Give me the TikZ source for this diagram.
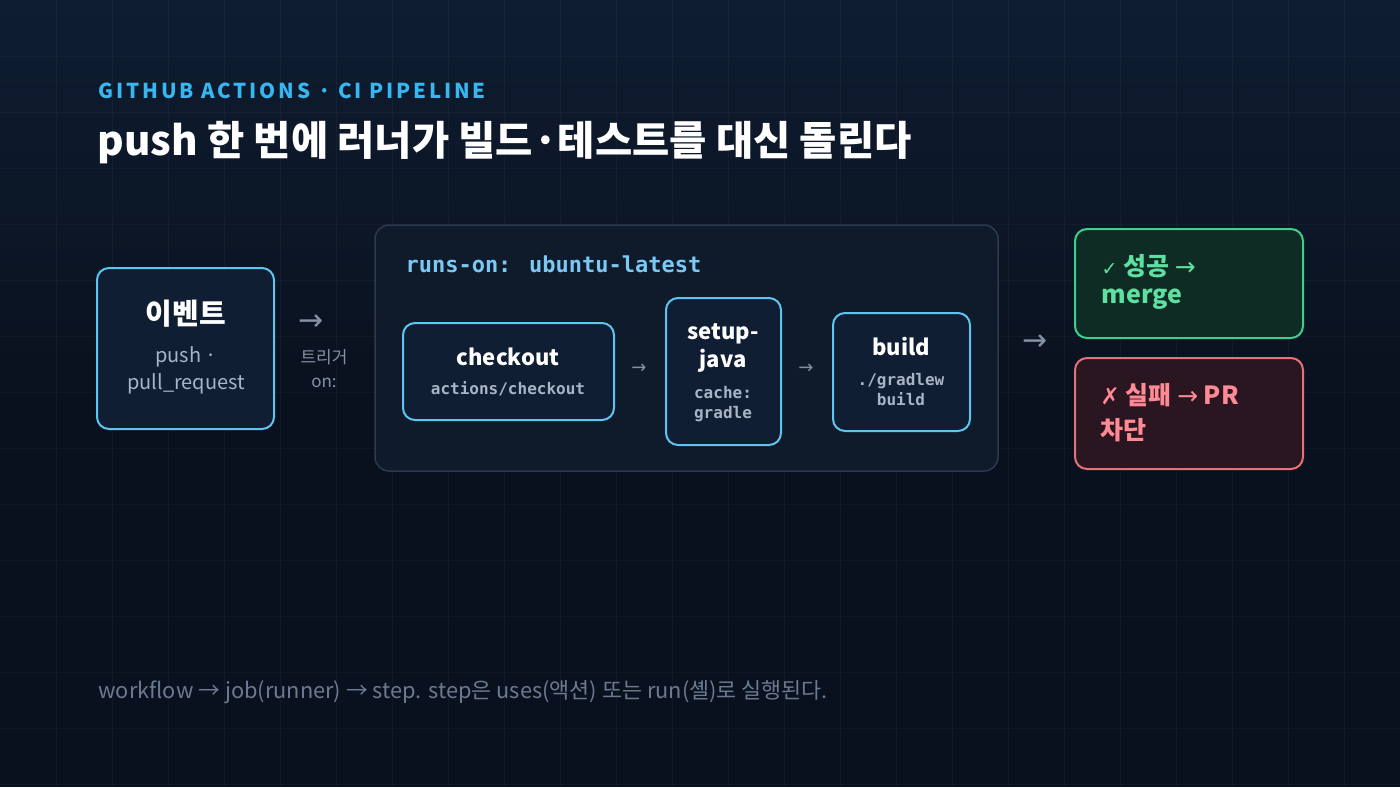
\documentclass[tikz,border=0pt]{standalone}
\usepackage{fontspec}
\setmainfont{Noto Sans CJK KR}
\newfontfamily\hdrf[LetterSpace=14]{Noto Sans CJK KR}
\newfontfamily\monof{DejaVu Sans Mono}
\newfontfamily\symf{DejaVu Sans}
\definecolor{bg}{HTML}{0A111E}
\definecolor{bgtop}{HTML}{0E1D31}
\definecolor{cyanb}{HTML}{5EC4F0}
\definecolor{hdrc}{HTML}{38B6F0}
\definecolor{boxf}{HTML}{0F1E33}
\definecolor{greyt}{HTML}{A9B4C4}
\definecolor{dimt}{HTML}{8391A5}
\definecolor{contl}{HTML}{2A3A50}
\definecolor{contf}{HTML}{0F1A2B}
\definecolor{runc}{HTML}{7CC8F5}
\definecolor{footc}{HTML}{6B7A90}
\definecolor{gfill}{HTML}{0E2C24}
\definecolor{gline}{HTML}{3CCF8E}
\definecolor{gtext}{HTML}{5EE0A0}
\definecolor{rfill}{HTML}{2A1621}
\definecolor{rline}{HTML}{E8707A}
\definecolor{rtext}{HTML}{FF8A95}
\begin{document}
\begin{tikzpicture}[x=1pt,y=-1pt,
  box/.style={draw=cyanb,line width=2pt,fill=boxf,rounded corners=12pt},
  ttl/.style={font=\fontsize{22}{28}\selectfont\bfseries,text=white,anchor=center},
  sub/.style={font=\monof\fontsize{16}{20}\selectfont\bfseries,text=greyt,anchor=center},
  arr/.style={text=dimt,anchor=center}]
\useasboundingbox (0,0) rectangle (1400,787);
\fill[bg] (0,0) rectangle (1400,787);
\fill[top color=bgtop,bottom color=bg] (0,0) rectangle (1400,400);
\foreach \x in {56,112,...,1400} \draw[white,opacity=0.03] (\x,0) -- (\x,787);
\foreach \y in {56,112,...,787} \draw[white,opacity=0.03] (0,\y) -- (1400,\y);
\node[anchor=west,text=hdrc,font=\hdrf\fontsize{20.5}{24}\selectfont\bfseries] (hdr) at (95,91) {GITHUB ACTIONS · CI PIPELINE};
\node[anchor=west,text=white,font=\fontsize{40.5}{46}\selectfont\bfseries] (title) at (94,143) {push 한 번에 러너가 빌드·테스트를 대신 돌린다};
% event
\draw[box] (97,268) rectangle (274,429);
\node[ttl,font=\fontsize{29}{32}\selectfont\bfseries] (ev) at (186,314) {이벤트};
\node[anchor=center,text=greyt,font=\fontsize{20}{27}\selectfont,align=center] (evs) at (186,370) {push ·\\pull\_request};
\node[arr,font=\symf\fontsize{30}{30}\selectfont] (a1) at (311,323) {→};
\node[arr,font=\fontsize{17}{24}\selectfont,align=center] (trig) at (324,369) {트리거\\on:};
% container
\draw[draw=contl,line width=1.5pt,fill=contf,rounded corners=14pt] (375,225) rectangle (998,471);
\node[anchor=west,text=runc,font=\monof\fontsize{22}{26}\selectfont\bfseries] (runs) at (402,264) {runs-on: ubuntu-latest};
\draw[box] (403,323) rectangle (614,420);
\node[ttl] (co) at (508,357) {checkout};
\node[sub] (cos) at (508,389) {actions/checkout};
\node[arr,font=\symf\fontsize{18}{20}\selectfont] (a2) at (639,369) {→};
\draw[box] (666,298) rectangle (781,445);
\node[ttl,align=center] (sj) at (723,348) {setup-\\java};
\node[sub,align=center] (sjs) at (723,404) {cache:\\gradle};
\node[arr,font=\symf\fontsize{18}{20}\selectfont] (a3) at (806,369) {→};
\draw[box] (833,313) rectangle (970,431);
\node[ttl] (bd) at (901,347) {build};
\node[sub,align=center] (bds) at (901,390) {./gradlew\\build};
\node[arr,font=\symf\fontsize{30}{30}\selectfont] (a4) at (1035,343) {→};
% results
\draw[draw=gline,line width=2pt,fill=gfill,rounded corners=12pt] (1075,229) rectangle (1303,338);
\node[anchor=west,text=gtext,font=\fontsize{25}{30}\selectfont\bfseries] (ok1) at (1098,266) {{\symf\mdseries\fontsize{19}{20}\selectfont ✓} 성공 {\symf\mdseries →}};
\node[anchor=west,text=gtext,font=\fontsize{25}{30}\selectfont\bfseries] (ok2) at (1098,299) {merge};
\draw[draw=rline,line width=2pt,fill=rfill,rounded corners=12pt] (1075,358) rectangle (1303,469);
\node[anchor=west,text=rtext,font=\fontsize{25}{30}\selectfont\bfseries] (f1) at (1097,395) {{\symf\fontsize{23}{24}\selectfont ✗} 실패 {\symf\mdseries →} PR};
\node[anchor=west,text=rtext,font=\fontsize{25}{30}\selectfont\bfseries] (f2) at (1097,430) {차단};
\node[anchor=west,text=footc,font=\fontsize{21.8}{25}\selectfont] (foot) at (95,692) {workflow → job(runner) → step. step은 uses(액션) 또는 run(셸)로 실행된다.};
\end{tikzpicture}
\end{document}
